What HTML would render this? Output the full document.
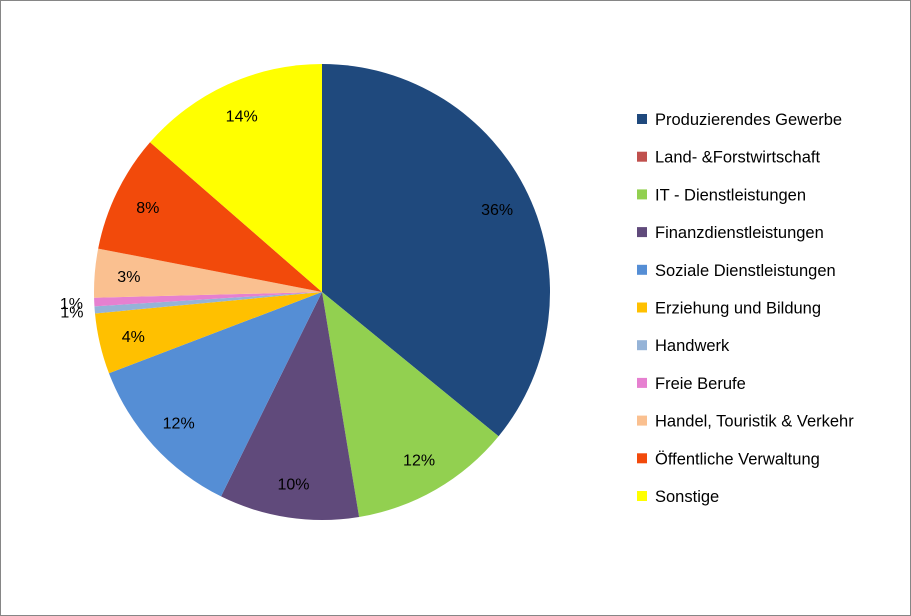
<!DOCTYPE html>
<html><head><meta charset="utf-8"><style>
body{margin:0;background:#fff}
#c{position:absolute;left:0;top:0;width:909px;height:614px;border:1px solid #868686;background:#fff}
svg{position:absolute;left:0;top:0}
text{font-family:"Liberation Sans",sans-serif}
</style></head><body>
<div id="c"></div>
<svg id="s" width="911" height="616"></svg>
<script>
const categories=["Produzierendes Gewerbe","Land- &Forstwirtschaft","IT - Dienstleistungen","Finanzdienstleistungen","Soziale Dienstleistungen","Erziehung und Bildung","Handwerk","Freie Berufe","Handel, Touristik & Verkehr","Öffentliche Verwaltung","Sonstige"];
const values=[35.9,0,11.5,9.9,11.9,4.3,0.5,0.6,3.45,8.35,13.6];
const colors=["#1F497D","#C0504D","#92D050","#604A7B","#558ED5","#FFC000","#95B3D7","#E680D0","#FAC090","#F24A0B","#FFFF00"];
const NS="http://www.w3.org/2000/svg";
const s=document.getElementById('s');
const cx=322,cy=292,r=228;
const total=values.reduce((a,b)=>a+b,0);
function pt(a,rr){return [cx+rr*Math.sin(a),cy-rr*Math.cos(a)];}
let acc=0;
values.forEach((v,i)=>{
  const a0=acc/total*2*Math.PI; acc+=v; const a1=acc/total*2*Math.PI;
  if(v<=0) return;
  const p0=pt(a0,r),p1=pt(a1,r);
  const path=document.createElementNS(NS,'path');
  path.setAttribute('d',`M${cx},${cy}L${p0[0]},${p0[1]}A${r},${r} 0 ${a1-a0>Math.PI?1:0} 1 ${p1[0]},${p1[1]}Z`);
  path.setAttribute('fill',colors[i]);
  
  
  s.appendChild(path);
});
acc=0;
values.forEach((v,i)=>{
  const a0=acc/total*2*Math.PI; acc+=v; const a1=acc/total*2*Math.PI;
  const pct=Math.round(v/total*100);
  if(pct<1) return;
  const outside=v/total<0.01;
  const p=pt((a0+a1)/2,outside?r*1.1:r*0.85);
  const t=document.createElementNS(NS,'text');
  t.setAttribute('x',p[0]);t.setAttribute('y',p[1]+6);
  t.setAttribute('text-anchor','middle');t.setAttribute('font-size','16');t.setAttribute('fill','#000');
  t.textContent=pct+'%';
  
  
  s.appendChild(t);
});
categories.forEach((c,i)=>{
  const y=119+i*37.7;
  const g=document.createElementNS(NS,'g');
  
  
  const rc=document.createElementNS(NS,'rect');
  rc.setAttribute('x',637);rc.setAttribute('y',y-5);rc.setAttribute('width',10);rc.setAttribute('height',10);rc.setAttribute('fill',colors[i]);
  const t=document.createElementNS(NS,'text');
  t.setAttribute('x',655);t.setAttribute('y',y+6);t.setAttribute('font-size','16.5');t.setAttribute('fill','#000');
  t.textContent=c;
  g.appendChild(rc);g.appendChild(t);s.appendChild(g);
});
</script>
</body></html>
